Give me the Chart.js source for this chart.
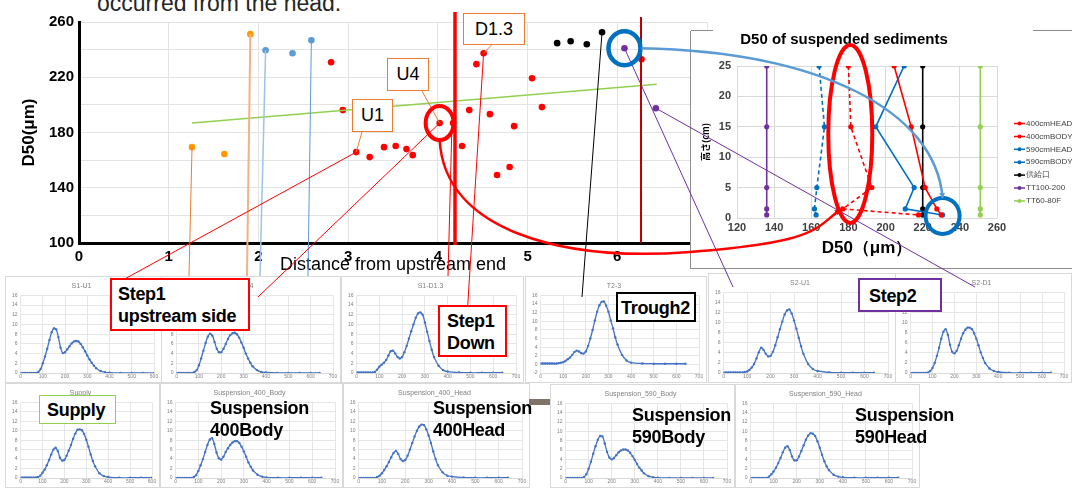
<!DOCTYPE html>
<html>
<head>
<meta charset="utf-8">
<script src="https://cdn.jsdelivr.net/npm/chart.js@4"></script>
<style>
  body { margin: 0; width: 1072px; height: 488px; overflow: hidden; background: #fff; position: relative;
         font-family: "Liberation Sans", Arial, sans-serif; }
  .sm { position: absolute; border: 1px solid #d9d9d9; background: #fff; box-sizing: border-box; z-index: 2; }
  .box { position: absolute; background: #fff; box-sizing: border-box; z-index: 6; color: #000; white-space: nowrap; }
  .big { font-weight: bold; font-size: 18px; line-height: 22px; letter-spacing: -0.3px; }
  .tag { font-size: 18px; line-height: 30px; text-align: center; border: 1.5px solid #ED7D31; }
  .txt { position: absolute; z-index: 6; font-weight: bold; font-size: 18px; line-height: 22px; color: #000; letter-spacing: -0.3px; }
</style>
</head>
<body>
<div style="position:absolute;left:97px;top:-8px;font-size:23px;line-height:23px;color:#262626;z-index:1">occurred from the head.</div>
<canvas id="main" width="720" height="275" style="position:absolute;left:0;top:0;z-index:1"></canvas>

<div class="sm" style="left:5px;top:276px;width:157px;height:107px"><canvas id="c1"></canvas></div>
<div class="sm" style="left:161px;top:276px;width:180px;height:107px"><canvas id="c2"></canvas></div>
<div class="sm" style="left:341px;top:276px;width:183px;height:107px"><canvas id="c3"></canvas></div>
<div class="sm" style="left:525px;top:276px;width:182px;height:107px"><canvas id="c4"></canvas></div>
<div class="sm" style="left:708px;top:273px;width:188px;height:110px"><canvas id="c5"></canvas></div>
<div class="sm" style="left:895px;top:273px;width:177px;height:110px"><canvas id="c6"></canvas></div>
<div class="sm" style="left:5px;top:383px;width:155px;height:105px"><canvas id="c7"></canvas></div>
<div class="sm" style="left:160px;top:383px;width:183px;height:105px"><canvas id="c8"></canvas></div>
<div class="sm" style="left:343px;top:383px;width:187px;height:105px"><canvas id="c9"></canvas></div>
<div class="sm" style="left:550px;top:384px;width:185px;height:104px"><canvas id="c10"></canvas></div>
<div class="sm" style="left:735px;top:384px;width:185px;height:104px"><canvas id="c11"></canvas></div>

<div style="position:absolute;left:690px;top:31px;width:390px;height:237px;background:#fff;border-left:1px solid #8c8c8c;border-bottom:1px solid #8c8c8c;z-index:3">
  <canvas id="inset" width="382" height="236" style="position:absolute;left:0;top:0"></canvas>
  <div style="position:absolute;left:0;top:-1px;width:22px;border-top:1px solid #8c8c8c"></div>
  <div style="position:absolute;left:342px;top:-1px;width:50px;border-top:1px solid #8c8c8c"></div>
</div>

<svg id="ov" width="1072" height="488" style="position:absolute;left:0;top:0;z-index:5;pointer-events:none"></svg>

<div class="box tag" style="left:352px;top:99px;width:41px;height:33px">U1</div>
<div class="box tag" style="left:387px;top:58px;width:42px;height:33px">U4</div>
<div class="box tag" style="left:463px;top:13px;width:62px;height:32px">D1.3</div>
<div class="box big" style="left:110px;top:278px;width:140px;height:53px;border:2px solid #f00;padding:3px 6px">Step1<br>upstream side</div>
<div class="box big" style="left:438px;top:305px;width:69px;height:52px;border:2px solid #f00;padding:3px 7px">Step1<br>Down</div>
<div class="box big" style="left:616px;top:292px;width:80px;height:30px;border:2px solid #000;padding:3px 3px">Trough2</div>
<div class="box big" style="left:858px;top:278px;width:84px;height:34px;border:2px solid #7030A0;padding:5px 9px">Step2</div>
<div class="box big" style="left:39px;top:395px;width:77px;height:29px;border:1.5px solid #92D050;padding:3px 7px">Supply</div>
<div class="txt" style="left:210px;top:397px">Suspension<br>400Body</div>
<div class="txt" style="left:433px;top:397px">Suspension<br>400Head</div>
<div class="txt" style="left:632px;top:404px">Suspension<br>590Body</div>
<div class="txt" style="left:855px;top:404px">Suspension<br>590Head</div>
<div style="position:absolute;left:529px;top:399px;width:21px;height:6px;background:#7f7466;z-index:6"></div>

<script>
// main chart: D50 along the flume
const orangeX = [1.26, 1.62, 1.91];
const orangeY = [169.4, 164.4, 251.2];
const blueX = [2.08, 2.38, 2.59];
const blueY = [239.6, 237.4, 246.8];
const redX = [2.81, 2.94, 3.09, 3.24, 3.40, 3.53, 3.65, 3.72, 4.02, 4.17, 4.27, 4.35, 4.43, 4.51, 4.58, 4.66, 4.80, 4.85, 5.05, 5.16, 6.27];
const redY = [230.9, 196.2, 165.8, 162.2, 169.4, 170.2, 168.0, 163.6, 186.8, 186.8, 170.2, 196.2, 229.5, 237.4, 193.3, 149.2, 155.0, 184.6, 219.3, 198.4, 233.0];
const blackX = [5.33, 5.48, 5.66, 5.83];
const blackY = [244.7, 246.1, 243.9, 252.6];
const purpleX = [6.08, 6.43];
const purpleY = [241.0, 197.6];
const greenX = [1.26, 6.44];
const greenY = [186.8, 215.0];

// inset: D50 of suspended sediments vs height
const heights = [25, 15, 5, 1.5, 0.5];
const head400 = [204.6, 213.8, 221.3, 227.6, 230.0];
const body400 = [180.0, 181.3, 192.6, 177.0, 217.7];
const head590 = [210.0, 194.7, 215.4, 210.6, 230.7];
const body590 = [164.2, 167.1, 163.0, 161.7, 162.6];
const supplyD = [220, 220, 220, 220, 220];
const tt100 = [136, 136, 136, 136, 136];
const tt60 = [251, 251, 251, 251, 251];

// grain size distributions (x = size in um, y = %)
const sizes = [0,10,20,30,40,50,60,70,80,90, 100,110,120,130,140,150,160,170,180,190,
  200,210,220,230,240,250,260,270,280,290, 300,310,320,330,340,360,380,400,450,500,550,600,640];
const s1u1 = [0,0,0,0,0,0,0,0,0.2,0.8, 2.0,3.4,5.0,6.8,8.4,9.2,9.0,7.4,5.2,4.1,
  4.3,4.9,5.5,6.1,6.5,6.6,6.5,6.0,5.3,4.5, 3.6,2.8,2.1,1.5,1.0,0.4,0.15,0.05,0,0,0,0,0];
const u4 = [0,0,0,0,0,0,0,0,0.2,0.6, 1.6,3.0,4.6,6.2,7.5,8.1,7.7,6.4,5.0,4.3,
  4.3,5.0,6.0,7.0,7.8,8.2,8.3,8.0,7.3,6.3, 5.2,4.0,3.0,2.1,1.4,0.6,0.2,0.1,0,0,0,0,0];
const s1d13 = [0.1,0.1,0.1,0.1,0.1,0.1,0.1,0.1,0.2,0.7, 1.3,1.7,2.1,2.7,3.6,4.5,4.6,4.0,3.3,3.0,
  3.3,4.3,5.6,7.1,8.6,10.0,11.4,12.3,12.5,12.0, 10.4,8.5,6.6,4.8,3.3,1.5,0.6,0.3,0.1,0.05,0.05,0.05,0.05];
const t23 = [0.2,0.2,0.2,0.2,0.2,0.2,0.2,0.2,0.3,0.4, 0.5,0.8,1.2,1.6,2.2,2.9,3.2,3.0,2.6,2.5,
  3.0,4.3,6.0,8.0,10.2,12.2,13.7,14.5,14.6,13.6, 12.2,10.2,8.4,6.3,4.6,2.2,0.9,0.4,0.2,0.15,0.15,0.15,0.15];
const s2u1 = [0.1,0.1,0.1,0.1,0.1,0.1,0.1,0.1,0.1,0.2, 0.3,0.6,1.1,1.8,2.9,4.1,5.0,4.6,3.8,3.3,
  3.4,4.2,5.5,7.1,8.7,10.2,11.6,12.4,12.6,11.8, 10.4,8.8,7.0,5.3,3.8,1.8,0.8,0.4,0.1,0.05,0.05,0.05,0.05];
const s2d1 = [0,0,0,0,0,0,0,0,0.1,0.4, 1.0,2.0,3.4,5.0,6.8,8.2,8.7,7.6,5.6,4.2,
  3.9,4.4,5.5,6.8,7.9,8.6,9.0,9.0,8.7,7.9, 6.8,5.5,4.1,3.0,2.0,0.9,0.4,0.2,0.05,0.05,0.05,0.05,0.05];
const supply = [0.1,0.1,0.1,0.1,0.1,0.1,0.1,0.1,0.2,0.5, 1.1,1.8,2.7,3.8,5.0,6.0,6.4,5.7,4.3,3.7,
  3.8,4.7,5.8,7.0,8.3,9.4,10.2,10.3,10.1,9.3, 8.1,6.6,5.0,3.6,2.5,1.0,0.4,0.2,0.05,0.05,0.05,0.05,0.05];
const sus400body = [0,0,0,0,0,0,0,0,0.2,0.6, 1.5,2.7,4.0,5.5,7.0,8.1,8.4,7.2,5.4,4.2,
  3.9,4.5,5.5,6.3,7.0,7.5,7.8,7.8,7.4,6.6, 5.6,4.5,3.3,2.4,1.6,0.7,0.3,0.1,0.05,0.05,0.05,0.05,0.05];
const sus400head = [0,0,0,0,0,0,0,0,0.2,0.5, 1.0,1.7,2.5,3.4,4.4,5.3,5.7,5.1,4.0,3.6,
  3.8,4.7,6.0,7.4,8.8,10.0,10.9,11.3,11.2,10.3, 9.0,7.4,5.6,4.0,2.7,1.2,0.5,0.3,0.1,0.05,0.05,0.05,0.05];
const sus590body = [0,0,0,0,0,0,0,0,0.2,0.8, 2.0,3.5,5.2,6.8,8.2,9.0,8.9,7.4,5.6,4.4,
  4.0,4.3,4.9,5.5,5.9,6.1,6.1,5.9,5.4,4.7, 3.9,3.0,2.2,1.6,1.0,0.4,0.15,0.05,0,0,0,0,0];
const sus590head = [0,0,0,0,0,0,0,0,0.3,0.8, 1.4,2.2,3.2,4.3,5.5,6.5,6.8,6.0,4.6,3.8,
  3.8,4.6,5.8,7.0,8.2,9.1,9.6,9.5,9.0,7.9, 6.5,5.0,3.6,2.5,1.7,0.7,0.3,0.15,0.05,0.05,0.05,0.05,0.05];

const FONT = '"Liberation Sans", Arial, sans-serif';
const pts = (xs, ys) => xs.map((x, i) => ({ x: x, y: ys[i] }));

function dots(xs, ys, color) {
  return { data: pts(xs, ys), backgroundColor: color, borderColor: color, pointRadius: 3.3, pointBorderWidth: 0 };
}

const main = new Chart(document.getElementById("main"), {
  type: "scatter",
  data: {
    datasets: [
      { type: "line", data: pts(greenX, greenY), borderColor: "#92D050", borderWidth: 1.5, pointRadius: 0, tension: 0 },
      dots(orangeX, orangeY, "#FF9900"),
      dots(blueX, blueY, "#5B9BD5"),
      dots(redX, redY, "#FF0000"),
      dots(blackX, blackY, "#000000"),
      dots(purpleX, purpleY, "#7030A0"),
    ],
  },
  options: {
    responsive: false,
    animation: false,
    layout: { padding: { top: 22, right: 13 } },
    plugins: { legend: { display: false }, tooltip: { enabled: false } },
    scales: {
      x: {
        type: "linear", min: 0, max: 7,
        ticks: { stepSize: 1, color: "#000", font: { family: FONT, size: 15, weight: "bold" }, padding: 5 },
        grid: { color: "#e3e3e3", drawTicks: false },
        border: { color: "#000", width: 3 },
        title: { display: true, text: "Distance from upstream end", color: "#000", font: { family: FONT, size: 18 }, padding: { top: 0, bottom: -1 } },
        afterFit: (s) => { s.height = 32; },
      },
      y: {
        min: 100, max: 260,
        ticks: { stepSize: 20, color: "#000", font: { family: FONT, size: 15, weight: "bold" }, padding: 5,
                 callback: (v) => ((v - 100) % 40 === 0 ? v : "") },
        grid: { color: "#e3e3e3", drawTicks: false },
        border: { color: "#000", width: 3 },
        title: { display: true, text: "D50(μm)", color: "#000", font: { family: FONT, size: 17, weight: "bold" }, padding: { top: 19, bottom: 0 } },
        afterFit: (s) => { s.width = 79; },
      },
    },
  },
});

// legend for the inset, drawn beside the plot
const insetLegend = {
  id: "insetLegend",
  afterDraw(chart) {
    const ctx = chart.ctx;
    ctx.save();
    ctx.font = "8px " + FONT;
    ctx.textBaseline = "middle";
    chart.data.datasets.forEach((ds, i) => {
      const y = 92.5 + i * 12.9;
      ctx.strokeStyle = ds.borderColor;
      ctx.lineWidth = 1.5;
      ctx.setLineDash(ds.borderDash || []);
      ctx.beginPath(); ctx.moveTo(323, y); ctx.lineTo(334, y); ctx.stroke();
      ctx.setLineDash([]);
      ctx.fillStyle = ds.borderColor;
      ctx.beginPath(); ctx.arc(328.5, y, 2, 0, Math.PI * 2); ctx.fill();
      ctx.fillStyle = "#404040";
      ctx.fillText(ds.label, 335, y);
    });
    ctx.restore();
  },
};

function prof(label, xs, color, dashed) {
  return { label: label, data: pts(xs, heights), borderColor: color, backgroundColor: color, showLine: true,
           borderWidth: 1.6, pointRadius: 2.6, pointBorderWidth: 0, borderDash: dashed ? [4, 3] : [] };
}

const inset = new Chart(document.getElementById("inset"), {
  type: "scatter",
  data: {
    datasets: [
      prof("400cmHEAD", head400, "#FF0000", false),
      prof("400cmBODY", body400, "#FF0000", true),
      prof("590cmHEAD", head590, "#0070C0", false),
      prof("590cmBODY", body590, "#0070C0", true),
      prof("供給口", supplyD, "#000000", false),
      prof("TT100-200", tt100, "#7030A0", false),
      prof("TT60-80F", tt60, "#92D050", false),
    ],
  },
  plugins: [insetLegend],
  options: {
    responsive: false,
    animation: false,
    layout: { padding: { right: 76 } },
    plugins: {
      legend: { display: false }, tooltip: { enabled: false },
      title: { display: true, text: "D50 of suspended sediments", color: "#000", font: { family: FONT, size: 15, weight: "bold" }, padding: { top: 0, bottom: 17 } },
    },
    scales: {
      x: {
        type: "linear", min: 120, max: 260,
        ticks: { stepSize: 20, color: "#404040", font: { family: FONT, size: 11, weight: "bold" }, padding: 3 },
        grid: { color: "#d9d9d9", drawTicks: false },
        border: { display: false },
        title: { display: true, text: "D50（μm）", color: "#000", font: { family: FONT, size: 17, weight: "bold" }, padding: { top: 0, bottom: 8 } },
        afterFit: (s) => { s.height = 49; },
      },
      y: {
        min: 0, max: 25,
        ticks: { stepSize: 5, color: "#404040", font: { family: FONT, size: 11, weight: "bold" }, padding: 6 },
        grid: { color: "#d9d9d9", drawTicks: false },
        border: { display: false },
        title: { display: true, text: "高さ(cm)", color: "#000", font: { family: '"Noto Sans CJK JP", ' + FONT, size: 9, weight: "bold" }, padding: { top: 9, bottom: 0 } },
        afterFit: (s) => { s.width = 46; },
      },
    },
  },
});

// small distribution charts
function smallChart(id, title, ys, xMax, yMin) {
  const cv = document.getElementById(id);
  const box = cv.parentElement;
  cv.width = box.clientWidth;
  cv.height = box.clientHeight;
  new Chart(cv, {
    type: "scatter",
    data: { datasets: [{ data: pts(sizes, ys), showLine: true, borderColor: "#4472C4", backgroundColor: "#4472C4",
                         borderWidth: 1.3, pointRadius: 1.2, pointBorderWidth: 0, tension: 0.4 }] },
    options: {
      responsive: false,
      animation: false,
      layout: { padding: { left: 3, right: 7, top: 0, bottom: 1 } },
      plugins: {
        legend: { display: false }, tooltip: { enabled: false },
        title: { display: true, text: title, color: "#7f7f7f", font: { family: FONT, size: 7, weight: "normal" }, padding: { top: 5, bottom: 5 } },
      },
      scales: {
        x: { type: "linear", min: 0, max: xMax,
             ticks: { stepSize: 100, autoSkip: false, color: "#7f7f7f", font: { family: FONT, size: 5 }, padding: 1 },
             grid: { color: "#e6e6e6", drawTicks: false }, border: { color: "#d9d9d9" } },
        y: { min: yMin, max: 16,
             ticks: { stepSize: 2, autoSkip: false, color: "#7f7f7f", font: { family: FONT, size: 5 }, padding: 3 },
             grid: { color: "#e6e6e6", drawTicks: false }, border: { display: false } },
      },
    },
  });
}

smallChart("c1", "S1-U1", s1u1, 600, 0);
smallChart("c2", "U4", u4, 700, 0);
smallChart("c3", "S1-D1.3", s1d13, 700, 0);
smallChart("c4", "T2-3", t23, 700, -2);
smallChart("c5", "S2-U1", s2u1, 700, 0);
smallChart("c6", "S2-D1", s2d1, 700, 0);
smallChart("c7", "Supply", supply, 600, 0);
smallChart("c8", "Suspension_400_Body", sus400body, 700, 0);
smallChart("c9", "Suspension_400_Head", sus400head, 700, 0);
smallChart("c10", "Suspension_590_Body", sus590body, 700, 0);
smallChart("c11", "Suspension_590_Head", sus590head, 700, 0);

// annotations: connectors, circles, arrows
const NS = "http://www.w3.org/2000/svg";
const svg = document.getElementById("ov");
function el(tag, attrs) {
  const e = document.createElementNS(NS, tag);
  for (const k in attrs) e.setAttribute(k, attrs[k]);
  svg.appendChild(e);
  return e;
}
const P = (x, y) => [main.scales.x.getPixelForValue(x), main.scales.y.getPixelForValue(y)];
const Q = (x, y) => [691 + inset.scales.x.getPixelForValue(x), 32 + inset.scales.y.getPixelForValue(y)];
function line(a, b, color, w) {
  el("line", { x1: a[0], y1: a[1], x2: b[0], y2: b[1], stroke: color, "stroke-width": w });
}

const defs = el("defs", {});
function marker(id, color) {
  const m = document.createElementNS(NS, "marker");
  m.setAttribute("id", id); m.setAttribute("markerWidth", "6"); m.setAttribute("markerHeight", "6");
  m.setAttribute("refX", "5"); m.setAttribute("refY", "3"); m.setAttribute("orient", "auto");
  m.setAttribute("markerUnits", "userSpaceOnUse");
  const p = document.createElementNS(NS, "path");
  p.setAttribute("d", "M0,0 L6,3 L0,6 z"); p.setAttribute("fill", color);
  m.appendChild(p); defs.appendChild(m);
}
marker("arR", "#FF0000");
marker("arB", "#5B9BD5");

// stems to the distribution charts
line(P(1.26, 169.4), [189, 276], "#ED7D31", 1);
line(P(1.91, 251.2), [247, 276], "#F4B183", 2);
line(P(2.08, 239.6), [260, 276], "#9DC3E6", 1.5);
line(P(2.59, 246.8), [308, 276], "#5B9BD5", 1);
line(P(3.09, 165.8), [110, 287], "#FF0000", 1);
line(P(4.02, 186.8), [258, 297], "#FF0000", 1);
line(P(4.51, 237.4), [467, 317], "#FF0000", 1);
line([452, 123], [448, 276], "#FF0000", 1);
line(P(5.83, 252.6), [582, 297], "#000000", 1);
line(P(6.08, 241.0), [733, 287], "#7030A0", 1);
line(P(6.43, 197.6), [975, 287], "#7030A0", 1);

// tag leaders
line([362, 132], P(3.09, 165.8), "#ED7D31", 1);
line([422, 91], P(4.02, 186.8), "#ED7D31", 1);
line([503, 33], P(4.51, 237.4), "#ED7D31", 1);

// vertical markers
line([455, 12], [455, 245], "#FF0000", 3.5);
line([641, 17], [641, 243], "#C00000", 2);

// circles
const u4p = P(4.02, 186.8);
el("ellipse", { cx: u4p[0], cy: u4p[1], rx: 14, ry: 17, fill: "none", stroke: "#FF0000", "stroke-width": 4 });
const s2p = P(6.08, 241.0);
el("ellipse", { cx: s2p[0], cy: s2p[1], rx: 16, ry: 17, fill: "none", stroke: "#0070C0", "stroke-width": 4.5 });
const ib = Q(230.7, 0.5);
el("ellipse", { cx: ib[0], cy: ib[1], rx: 17, ry: 18, fill: "none", stroke: "#0070C0", "stroke-width": 4 });
const ir = Q(181, 14);
el("ellipse", { cx: ir[0], cy: ir[1], rx: 22, ry: 89, fill: "none", stroke: "#FF0000", "stroke-width": 4 });

// arrows into the inset
const rEnd = Q(175.5, 1.5);
el("path", { d: `M${u4p[0]},${u4p[1] + 17} C${u4p[0] + 5},230 560,262 690,252 S${rEnd[0] - 25},${rEnd[1] + 18} ${rEnd[0]},${rEnd[1]}`,
             fill: "none", stroke: "#FF0000", "stroke-width": 2.5, "marker-end": "url(#arR)" });
const bEnd = Q(230.7, 3.5);
el("path", { d: `M${s2p[0] + 17},${s2p[1]} C820,52 935,110 ${bEnd[0]},${bEnd[1]}`,
             fill: "none", stroke: "#5B9BD5", "stroke-width": 2.5, "marker-end": "url(#arB)" });
</script>
</body>
</html>
